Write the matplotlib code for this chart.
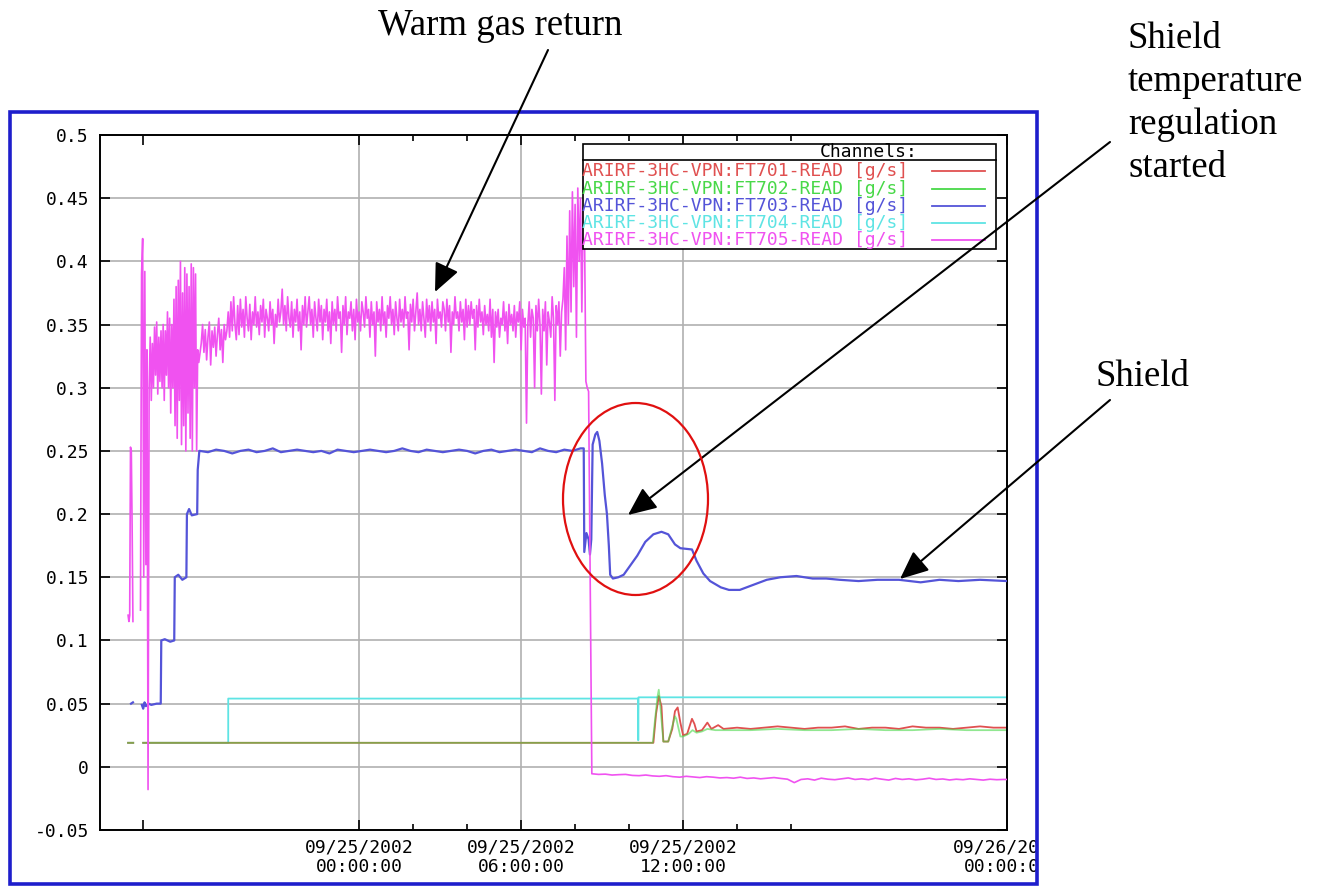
import numpy as np
import matplotlib.pyplot as plt
from matplotlib.patches import Rectangle, Ellipse, FancyArrowPatch
from matplotlib.transforms import Bbox, TransformedBbox
from matplotlib.ticker import FixedLocator, FuncFormatter

W, H = 1321, 886

# channel colours
RED = '#e05050'
GREEN = '#48d848'
BLUE = '#5454d8'
CYAN = '#5ee4e4'
MAGENTA = '#f052f0'

channels = ['ARIRF-3HC-VPN:FT701-READ [g/s]',
            'ARIRF-3HC-VPN:FT702-READ [g/s]',
            'ARIRF-3HC-VPN:FT703-READ [g/s]',
            'ARIRF-3HC-VPN:FT704-READ [g/s]',
            'ARIRF-3HC-VPN:FT705-READ [g/s]']

# time axis: hours after 09/25/2002 00:00:00
x_min, x_max = -9.6, 24.0
major_ticks = [-8, 0, 6, 12, 24]
major_labels = ['', '09/25/2002\n00:00:00', '09/25/2002\n06:00:00',
                '09/25/2002\n12:00:00', '09/26/2002\n00:00:00']
minor_ticks = [2, 4, 8, 10, 14, 16]
grid_hours = [0, 6, 12]
y_ticks = [-0.05, 0, 0.05, 0.1, 0.15, 0.2, 0.25, 0.3, 0.35, 0.4, 0.45, 0.5]

# ---- FT705 (warm gas return), values in g/s * 1000 ----
ft705_a_t0, ft705_a_dt = -8.56, 0.03
ft705_a = [120, 115, 120, 253, 250, 190, 115]

ft705_b_t0, ft705_b_dt = -8.10, 0.04
ft705_b = [124, 390, 418, 150, 392, 160, 330, -18, 300, 340,
           290, 335, 300, 348, 310, 352, 295, 340, 305, 345,
           300, 350, 290, 345, 310, 360, 300, 355, 280, 350,
           300, 370, 270, 380, 260, 385, 290, 400, 255, 375,
           270, 395, 250, 390, 280, 380, 260, 398, 250, 395,
           300, 390, 250, 330, 320]

ft705_c_t0, ft705_c_dt = -5.85, 0.05
ft705_c = [335, 350, 328, 346, 322, 340, 352, 318, 345, 332,
           348, 325, 342, 355, 330, 346, 320, 350, 338, 345,
           360, 340, 368, 345, 372, 350, 338, 365, 342, 370,
           348, 362, 340, 372, 355, 345, 366, 338, 360, 350,
           372, 348, 360, 342, 365, 352, 370, 340, 362, 355,
           345, 368, 350, 362, 335, 358, 348, 370, 352, 360,
           378, 350, 365, 345, 372, 355, 348, 368, 340, 362,
           352, 370, 345, 360, 330, 365, 350, 372, 348, 360,
           372, 350, 362, 340, 368, 355, 345, 370, 352, 365,
           338, 362, 352, 370, 345, 360, 335, 368, 350, 362,
           345, 372, 355, 360, 328, 365, 350, 372, 342, 360,
           355, 368, 345, 362, 338, 370, 352, 360, 345, 368,
           360, 348, 372, 355, 362, 340, 368, 350, 360, 325,
           368, 352, 362, 345, 372, 350, 360, 340, 365, 355,
           372, 350, 362, 342, 368, 355, 345, 370, 352, 362,
           348, 372, 355, 360, 330, 366, 352, 370, 345, 360,
           375, 350, 362, 345, 368, 355, 340, 370, 352, 365,
           345, 368, 352, 362, 335, 370, 355, 360, 348, 368,
           362, 345, 370, 352, 365, 328, 360, 350, 372, 355,
           360, 345, 368, 352, 362, 338, 370, 348, 365, 350,
           368, 355, 362, 330, 365, 348, 370, 352, 360, 342,
           365, 350, 358, 345, 370, 340, 362, 320, 360, 348,
           362, 340, 355, 350, 368, 345, 360, 335, 366, 350,
           358, 345, 365, 340, 360, 352, 368, 330, 362, 348,
           355, 272, 350, 368, 340, 362, 355, 300, 365, 345,
           370, 350, 295, 362, 345, 368, 318, 360, 352, 340,
           372, 355, 290, 365, 350, 368, 325, 360]

ft705_d_t0, ft705_d_dt = 7.55, 0.05
ft705_d = [370, 395, 330, 420, 350, 440, 360, 455, 380, 445,
           340, 458, 400, 450, 360, 440, 420, 305, 300, 297]

ft705_e_t0, ft705_e_dt = 8.62, 0.25
ft705_e = [-5.5, -6.0, -5.8, -6.5, -6.2, -6.0, -6.8, -7.0, -6.5, -7.2,
           -7.5, -7.0, -7.8, -8.2, -7.5, -8.0, -8.5, -7.8, -8.2, -8.8,
           -8.5, -9.0, -8.2, -9.2, -8.8, -9.5, -9.0, -8.5, -9.2, -9.8,
           -12.5, -10.0, -9.5, -10.5, -9.0, -9.8, -10.2, -9.5, -8.8, -10.0,
           -9.5, -10.2, -9.0, -9.8, -10.5, -9.2, -10.0, -9.5, -10.3, -9.8,
           -9.0, -10.0, -9.6, -10.4, -9.8, -10.2, -9.5, -10.0, -10.5, -9.8,
           -10.2, -10.0]

# ---- FT703 (shield) ----
ft703_t = [-8.45, -8.38, np.nan,
           -8.05, -8.0, -7.95, -7.9, -7.8, -7.7, -7.5, -7.35,
           -7.33, -7.2, -7.0, -6.85, -6.83, -6.7, -6.55, -6.4,
           -6.38, -6.3, -6.2, -6.0, -5.98, -5.92]
ft703_v = [0.050, 0.051, np.nan,
           0.049, 0.046, 0.051, 0.048, 0.050, 0.049, 0.050, 0.050,
           0.100, 0.101, 0.099, 0.100, 0.150, 0.152, 0.148, 0.150,
           0.200, 0.204, 0.199, 0.200, 0.235, 0.250]
ft703_flat_t0, ft703_flat_dt = -5.9, 0.3
ft703_flat = [250, 249, 251, 250, 248, 250, 251, 249, 250, 252,
              249, 250, 251, 250, 249, 250, 248, 251, 250, 249,
              250, 251, 250, 249, 250, 252, 250, 249, 251, 250,
              249, 250, 251, 250, 248, 250, 251, 249, 250, 251,
              250, 249, 252, 250, 249, 251, 250, 252]
ft703_after_t = [8.32, 8.34, 8.42, 8.5, 8.55, 8.6, 8.65, 8.75, 8.82, 8.9,
                 9.0, 9.1, 9.18, 9.25, 9.3, 9.4, 9.6, 9.8, 10.0, 10.3,
                 10.6, 10.9, 11.2, 11.45, 11.7, 11.9, 12.33, 12.5, 12.75, 13.0,
                 13.4, 13.7, 14.1, 14.6, 15.1, 15.6, 16.2, 16.8, 17.3, 17.8,
                 18.5, 19.2, 20.0, 20.8, 21.5, 22.2, 23.0, 24.0]
ft703_after_v = [0.252, 0.170, 0.185, 0.180, 0.168, 0.180, 0.255, 0.263, 0.265, 0.258,
                 0.240, 0.215, 0.200, 0.175, 0.152, 0.149, 0.150, 0.152, 0.158, 0.167,
                 0.178, 0.184, 0.186, 0.184, 0.176, 0.173, 0.172, 0.163, 0.153, 0.147,
                 0.142, 0.140, 0.140, 0.144, 0.148, 0.150, 0.151, 0.149, 0.149, 0.148,
                 0.147, 0.148, 0.148, 0.146, 0.148, 0.147, 0.148, 0.147]

# ---- FT704 ----
ft704_t = [-8.56, -8.37, np.nan, -8.0, -4.85, -4.85, 10.33, 10.34, 10.35, 24.0]
ft704_v = [0.019, 0.019, np.nan, 0.019, 0.019, 0.054, 0.054, 0.021, 0.055, 0.055]

# ---- FT701 ----
ft701_t = [-8.56, -8.37, np.nan, -8.0, 10.9, 11.0, 11.1, 11.2, 11.27, 11.45,
           11.6, 11.7, 11.8, 11.9, 12.0, 12.15, 12.33, 12.42, 12.5, 12.7,
           12.9, 13.05, 13.3, 13.5, 14.0, 14.5, 15.0, 15.5, 16.0, 16.5,
           17.0, 17.5, 18.0, 18.5, 19.0, 19.5, 20.0, 20.5, 21.0, 21.5,
           22.0, 22.5, 23.0, 23.5, 24.0]
ft701_v = [0.019, 0.019, np.nan, 0.019, 0.019, 0.042, 0.056, 0.048, 0.020, 0.020,
           0.030, 0.044, 0.047, 0.035, 0.025, 0.026, 0.038, 0.034, 0.028, 0.029,
           0.035, 0.030, 0.033, 0.030, 0.031, 0.030, 0.031, 0.032, 0.031, 0.030,
           0.031, 0.031, 0.032, 0.030, 0.031, 0.031, 0.030, 0.032, 0.031, 0.031,
           0.030, 0.031, 0.032, 0.031, 0.031]

# ---- FT702 ----
ft702_t = [-8.56, -8.37, np.nan, -8.0, 10.88, 10.95, 11.05, 11.1, 11.15, 11.27,
           11.45, 11.55, 11.7, 11.75, 11.9, 12.0, 12.2, 12.35, 12.5, 12.7,
           12.9, 13.2, 13.5, 14.5, 15.5, 16.5, 17.5, 18.5, 19.5, 20.5,
           21.5, 22.5, 23.5, 24.0]
ft702_v = [0.019, 0.019, np.nan, 0.019, 0.019, 0.035, 0.055, 0.061, 0.050, 0.020,
           0.020, 0.028, 0.040, 0.038, 0.024, 0.024, 0.026, 0.029, 0.027, 0.028,
           0.030, 0.029, 0.029, 0.029, 0.030, 0.029, 0.029, 0.030, 0.029, 0.029,
           0.030, 0.029, 0.029, 0.029]


def segment(t0, dt, vals):
    t = t0 + dt * np.arange(len(vals))
    return t, np.array(vals, dtype=float) / 1000.0


def px(x, y):
    # figure pixel (from top-left) -> figure fraction
    return x / W, 1 - y / H


fig = plt.figure(figsize=(W / 100, H / 100), dpi=100)
ax = fig.add_axes([100 / W, 1 - 830 / H, 907 / W, 695 / H])

# assemble FT705 and FT703 from their pieces
parts = [segment(ft705_a_t0, ft705_a_dt, ft705_a), (np.array([np.nan]), np.array([np.nan])),
         segment(ft705_b_t0, ft705_b_dt, ft705_b), segment(ft705_c_t0, ft705_c_dt, ft705_c),
         segment(ft705_d_t0, ft705_d_dt, ft705_d), segment(ft705_e_t0, ft705_e_dt, ft705_e)]
t705 = np.concatenate([p[0] for p in parts] + [[24.0]])
v705 = np.concatenate([p[1] for p in parts] + [[-0.010]])

tf, vf = segment(ft703_flat_t0, ft703_flat_dt, ft703_flat)
t703 = np.concatenate([ft703_t, tf, ft703_after_t])
v703 = np.concatenate([ft703_v, vf, ft703_after_v])

lw = 1.3
ax.plot(ft704_t, ft704_v, color=CYAN, lw=lw, zorder=2)
ax.plot(ft701_t, ft701_v, color=RED, lw=lw, zorder=2)
ax.plot(ft702_t, ft702_v, color=GREEN, lw=lw, alpha=0.6, zorder=2)
ax.plot(t703, v703, color=BLUE, lw=1.6, zorder=3)
ax.plot(t705, v705, color=MAGENTA, lw=1.2, zorder=4)

ax.set_xlim(x_min, x_max)
ax.set_ylim(-0.05, 0.5)

ax.yaxis.set_major_locator(FixedLocator(y_ticks))
ax.yaxis.set_major_formatter(FuncFormatter(lambda v, p: '%g' % round(v, 3)))
ax.set_xticks(major_ticks)
ax.set_xticklabels(major_labels)
ax.xaxis.set_minor_locator(FixedLocator(minor_ticks))

ax.yaxis.grid(True, color='#b0b0b0', lw=1.2, zorder=0)
for g in grid_hours:
    ax.axvline(g, color='#b0b0b0', lw=1.2, zorder=0.5)
ax.set_axisbelow(True)

ax.tick_params(which='both', direction='in', top=True, right=True, color='black', width=1.2)
ax.tick_params(which='major', length=7)
ax.tick_params(which='minor', length=4)
ax.tick_params(axis='y', pad=8, labelsize=13)
ax.tick_params(axis='x', pad=6, labelsize=13)
for lab in ax.get_xticklabels() + ax.get_yticklabels():
    lab.set_fontfamily('DejaVu Sans Mono')
    lab.set_linespacing(1.1)
for s in ax.spines.values():
    s.set_linewidth(1.4)

# channels box
box = Rectangle((0.5325, 0.836), 0.4555, 0.151, transform=ax.transAxes,
                facecolor='white', edgecolor='black', lw=1.2, zorder=10)
ax.add_patch(box)
ax.plot([0.5325, 0.988], [0.964, 0.964], transform=ax.transAxes, color='black', lw=1.2, zorder=11)
ax.text(0.901, 0.9755, 'Channels:', transform=ax.transAxes, ha='right', va='center',
        fontsize=13, family='DejaVu Sans Mono', zorder=11)
colors = [RED, GREEN, BLUE, CYAN, MAGENTA]
row_px = [171, 188.5, 206, 223, 240]
for name, c, py in zip(channels, colors, row_px):
    yy = 1 - (py - 135) / 695
    t = ax.text(0.5315, yy, name, transform=ax.transAxes, ha='left', va='center',
                fontsize=13, family='DejaVu Sans Mono', color=c, zorder=11)
    t.set_clip_path(box)
    ax.plot([0.917, 0.976], [yy, yy], transform=ax.transAxes, color=c, lw=1.3, zorder=11)

# blue outer frame, the last date label is cut by it
fx0, fy0 = px(10, 884)
fx1, fy1 = px(1037, 112)
frame = Rectangle((fx0, fy0), fx1 - fx0, fy1 - fy0, transform=fig.transFigure,
                  fill=False, edgecolor='#1e1ecc', lw=2.6)
fig.add_artist(frame)
clip = TransformedBbox(Bbox([[fx0, fy0], [fx1, fy1]]), fig.transFigure)
for lab in ax.get_xticklabels():
    lab.set_clip_box(clip)
    lab.set_clip_on(True)

# annotations
serif = 'Liberation Serif'
fig.text(*px(500, 26), 'Warm gas return', ha='center', va='center', fontsize=26.5, family=serif)
fig.text(*px(1128, 22), 'Shield\ntemperature\nregulation\nstarted', ha='left', va='top',
         fontsize=26.5, family=serif, linespacing=1.32)
fig.text(*px(1095, 377), 'Shield', ha='left', va='center', fontsize=26.5, family=serif)

arrows = [((548, 50), (435, 292)), ((1110, 142), (628, 515)), ((1110, 400), (900, 579))]
for a, b in arrows:
    fig.add_artist(FancyArrowPatch(px(*a), px(*b), transform=fig.transFigure,
                                   arrowstyle='-|>,head_length=0.5,head_width=0.22',
                                   mutation_scale=35, lw=1.5, color='black',
                                   shrinkA=0, shrinkB=0))

ell = Ellipse(px(635.5, 499), 145 / W, 192 / H, transform=fig.transFigure,
              fill=False, edgecolor='#e01010', lw=1.6)
fig.add_artist(ell)

fig.savefig('out.png', dpi=100)
